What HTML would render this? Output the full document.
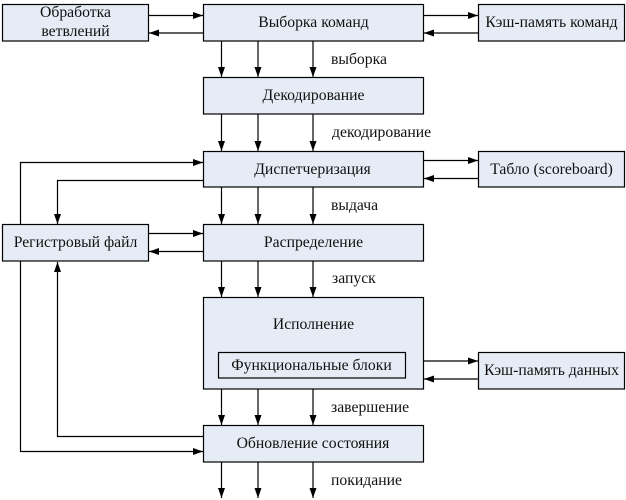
<!DOCTYPE html>
<html><head><meta charset="utf-8">
<style>
html,body{margin:0;padding:0;background:#fff;width:626px;height:500px;overflow:hidden}
svg{display:block}
text{font-family:"Liberation Serif",serif;font-size:15.7px;fill:#111;text-anchor:middle}
.l{text-anchor:start}
rect{fill:#e6ecf5;stroke:#000;stroke-width:1.2}
path.c{fill:none;stroke:#000;stroke-width:1.2}
</style></head><body>
<svg width="626" height="500" viewBox="0 0 626 500" xmlns="http://www.w3.org/2000/svg">
<defs>
<marker id="a" markerUnits="userSpaceOnUse" markerWidth="11" markerHeight="12" refX="10" refY="4" orient="auto"><path d="M0,0.5L10,4L0,7.5Z" fill="#000"/></marker>
</defs>
<rect x="2.5" y="4.5" width="146" height="36.5"/>
<rect x="203.5" y="4.5" width="220" height="36.5"/>
<rect x="478.5" y="4.5" width="146" height="36.5"/>
<rect x="203.5" y="77.5" width="220" height="36.5"/>
<rect x="203.5" y="151.5" width="220" height="35.5"/>
<rect x="478.5" y="151.5" width="146" height="35.5"/>
<rect x="2.5" y="224.5" width="146" height="36.5"/>
<rect x="203.5" y="224.5" width="220" height="36.5"/>
<rect x="203.5" y="297.5" width="220" height="91.5"/>
<rect x="218.5" y="352.5" width="187" height="25.5"/>
<rect x="478.5" y="352.5" width="146" height="36.5"/>
<rect x="203.5" y="425.5" width="220" height="36.5"/>
<g class="arrows">
<path class="c" marker-end="url(#a)" d="M149,15.5H203"/>
<path class="c" marker-end="url(#a)" d="M203,33H149"/>
<path class="c" marker-end="url(#a)" d="M424,15.5H478"/>
<path class="c" marker-end="url(#a)" d="M478,33H424"/>
<path class="c" marker-end="url(#a)" d="M424,160.5H478"/>
<path class="c" marker-end="url(#a)" d="M478,178.5H424"/>
<path class="c" marker-end="url(#a)" d="M149,233.5H203"/>
<path class="c" marker-end="url(#a)" d="M203,251.5H149"/>
<path class="c" marker-end="url(#a)" d="M424,361H478"/>
<path class="c" marker-end="url(#a)" d="M478,379H424"/>
<path class="c" marker-end="url(#a)" d="M221.5,41V77"/>
<path class="c" marker-end="url(#a)" d="M258,41V77"/>
<path class="c" marker-end="url(#a)" d="M313,41V77"/>
<path class="c" marker-end="url(#a)" d="M221.5,114V151"/>
<path class="c" marker-end="url(#a)" d="M258,114V151"/>
<path class="c" marker-end="url(#a)" d="M313,114V151"/>
<path class="c" marker-end="url(#a)" d="M221.5,187V224"/>
<path class="c" marker-end="url(#a)" d="M258,187V224"/>
<path class="c" marker-end="url(#a)" d="M313,187V224"/>
<path class="c" marker-end="url(#a)" d="M221.5,261V297"/>
<path class="c" marker-end="url(#a)" d="M258,261V297"/>
<path class="c" marker-end="url(#a)" d="M313,261V297"/>
<path class="c" marker-end="url(#a)" d="M221.5,389V425"/>
<path class="c" marker-end="url(#a)" d="M258,389V425"/>
<path class="c" marker-end="url(#a)" d="M313,389V425"/>
<path class="c" marker-end="url(#a)" d="M221.5,462V498"/>
<path class="c" marker-end="url(#a)" d="M258,462V498"/>
<path class="c" marker-end="url(#a)" d="M313,462V498"/>
<path class="c" marker-end="url(#a)" d="M20.5,224V162.5H203"/>
<path class="c" marker-end="url(#a)" d="M203,180.5H57.5V224"/>
<path class="c" marker-end="url(#a)" d="M203,436.5H57.5V262"/>
<path class="c" marker-end="url(#a)" d="M20.5,261V451.5H203"/>
</g>
<text x="75.5" y="17">Обработка</text>
<text x="75.5" y="36">ветвлений</text>
<text x="313.5" y="27">Выборка команд</text>
<text x="551.5" y="27">Кэш-память команд</text>
<text x="313.5" y="100">Декодирование</text>
<text x="312.5" y="174">Диспетчеризация</text>
<text x="551.5" y="174">Табло (scoreboard)</text>
<text x="75.5" y="247">Регистровый файл</text>
<text x="313.5" y="247">Распределение</text>
<text x="313.5" y="329">Исполнение</text>
<text x="311.5" y="370">Функциональные блоки</text>
<text x="551.5" y="375">Кэш-память данных</text>
<text x="313" y="448">Обновление состояния</text>
<text class="l" x="331" y="64">выборка</text>
<text class="l" x="332" y="137">декодирование</text>
<text class="l" x="331" y="210">выдача</text>
<text class="l" x="332" y="283">запуск</text>
<text class="l" x="331" y="412">завершение</text>
<text class="l" x="331" y="485">покидание</text>
</svg>
</body></html>
